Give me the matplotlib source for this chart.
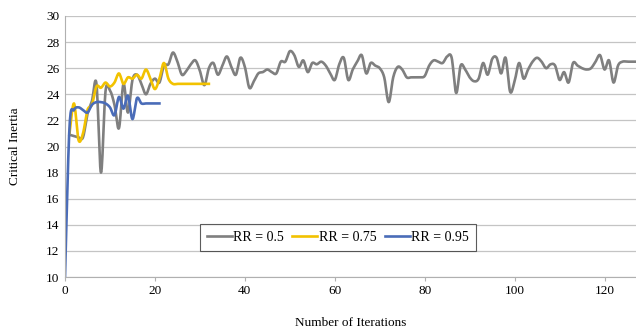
import numpy as np
import matplotlib
matplotlib.use("Agg")
import matplotlib.pyplot as plt

# ---- data ----
gray_iter = list(range(1, 129))
gray_vals = [20.9, 20.8, 20.7, 20.7, 22.5, 23.5, 24.8, 18.0, 24.2, 24.3,
             23.2, 21.4, 24.8, 22.6, 25.1, 25.5, 24.8, 24.0, 24.8, 25.2,
             24.9, 26.2, 26.3, 27.2, 26.5, 25.5, 25.8, 26.3, 26.6, 25.8,
             24.7, 26.0, 26.4, 25.5, 26.2, 26.9, 26.1, 25.5, 26.8, 26.1,
             24.5, 25.0, 25.6, 25.7, 25.9, 25.7, 25.6, 26.5, 26.5, 27.3,
             27.0, 26.1, 26.6, 25.7, 26.4, 26.3, 26.5, 26.2, 25.6, 25.1,
             26.3, 26.8, 25.1, 25.9, 26.5, 27.0, 25.6, 26.4, 26.2, 26.0,
             25.3, 23.4, 25.3, 26.1, 25.9, 25.3, 25.3, 25.3, 25.3, 25.4,
             26.2, 26.6, 26.5, 26.4, 26.9, 26.8, 24.1, 26.2, 25.9, 25.3,
             25.0, 25.2, 26.4, 25.5, 26.7, 26.8, 25.6, 26.8, 24.2, 25.0,
             26.4, 25.2, 25.9, 26.5, 26.8, 26.5, 26.0, 26.3, 26.2, 25.1,
             25.7, 24.9, 26.4, 26.2, 26.0, 25.9, 26.0, 26.5, 27.0, 25.9,
             26.6, 24.9, 26.2, 26.5, 26.5, 26.5, 26.5, 26.5]

yellow_iter = list(range(1, 33))
yellow_vals = [21.0, 23.3, 20.5, 21.0, 22.8, 23.2, 24.6, 24.5, 24.9, 24.6,
               24.9, 25.6, 24.8, 25.3, 25.2, 25.5, 25.2, 25.9, 25.2, 24.4,
               25.2, 26.4, 25.2, 24.8, 24.8, 24.8, 24.8, 24.8, 24.8, 24.8,
               24.8, 24.8]

blue_iter = list(range(0, 22))
blue_vals = [10.0, 21.5, 22.8, 23.0, 22.8, 22.6, 23.2, 23.4, 23.4, 23.3,
             23.0, 22.4, 23.8, 22.9, 23.9, 22.1, 23.7, 23.3, 23.3, 23.3,
             23.3, 23.3]

series_labels = ["RR = 0.5", "RR = 0.75", "RR = 0.95"]
x_ticks = [0, 20, 40, 60, 80, 100, 120]
y_ticks = list(range(10, 31, 2))


def smooth(x, y, n=12):
    """Catmull-Rom style smoothing through the data points (like Excel smoothed lines)."""
    x = np.asarray(x, float)
    y = np.asarray(y, float)
    px = np.concatenate([[x[0]], x, [x[-1]]])
    py = np.concatenate([[y[0]], y, [y[-1]]])
    xs, ys = [], []
    t = np.linspace(0, 1, n, endpoint=False)
    for i in range(1, len(px) - 2):
        p0, p1, p2, p3 = py[i - 1], py[i], py[i + 1], py[i + 2]
        q0, q1, q2, q3 = px[i - 1], px[i], px[i + 1], px[i + 2]
        for (a0, a1, a2, a3, out) in ((q0, q1, q2, q3, xs), (p0, p1, p2, p3, ys)):
            c1 = a1 + (a2 - a0) / 6.0
            c2 = a2 - (a3 - a1) / 6.0
            out.extend((1 - t) ** 3 * a1 + 3 * (1 - t) ** 2 * t * c1
                       + 3 * (1 - t) * t ** 2 * c2 + t ** 3 * a2)
    xs.append(x[-1])
    ys.append(y[-1])
    return np.array(xs), np.array(ys)


plt.rcParams['font.family'] = ['Liberation Serif', 'DejaVu Serif']

fig = plt.figure(figsize=(6.36, 3.31), dpi=100)
ax = fig.add_axes([65 / 636, (331 - 277) / 331, (636 - 65) / 636, 261 / 331])

colors = ["#7f7f7f", "#f2c200", "#4a6cb8"]
for (xi, yi), c, lab in zip([(gray_iter, gray_vals), (yellow_iter, yellow_vals),
                             (blue_iter, blue_vals)], colors, series_labels):
    sx, sy = smooth(xi, yi)
    ax.plot(sx, sy, color=c, lw=1.9, label=lab, solid_joinstyle='round')

ax.set_xlim(0, 127)
ax.set_ylim(10, 30)
ax.set_xticks(x_ticks)
ax.set_yticks(y_ticks)
ax.grid(axis='y', color='#c4c4c4', lw=0.9)
ax.set_axisbelow(True)
for s in ['top', 'right']:
    ax.spines[s].set_visible(False)
ax.spines['left'].set_color('#b0b0b0')
ax.spines['bottom'].set_color('#b0b0b0')
ax.tick_params(axis='x', direction='out', length=3, color='#b0b0b0', labelsize=9.5, pad=3)
ax.tick_params(axis='y', length=0, labelsize=9.5, pad=4)

ax.set_xlabel("Number of Iterations", fontsize=9.5, labelpad=14)
ax.set_ylabel("Critical Inertia", fontsize=9.5, labelpad=18)

leg = ax.legend(loc='center', bbox_to_anchor=(0.478, 0.151), ncol=3, frameon=True,
                fancybox=False, edgecolor='#333333', fontsize=10, handlelength=1.8,
                handletextpad=0.1, columnspacing=0.6, borderpad=0.5)
leg.get_frame().set_linewidth(0.8)

fig.savefig("out.png", dpi=100)
